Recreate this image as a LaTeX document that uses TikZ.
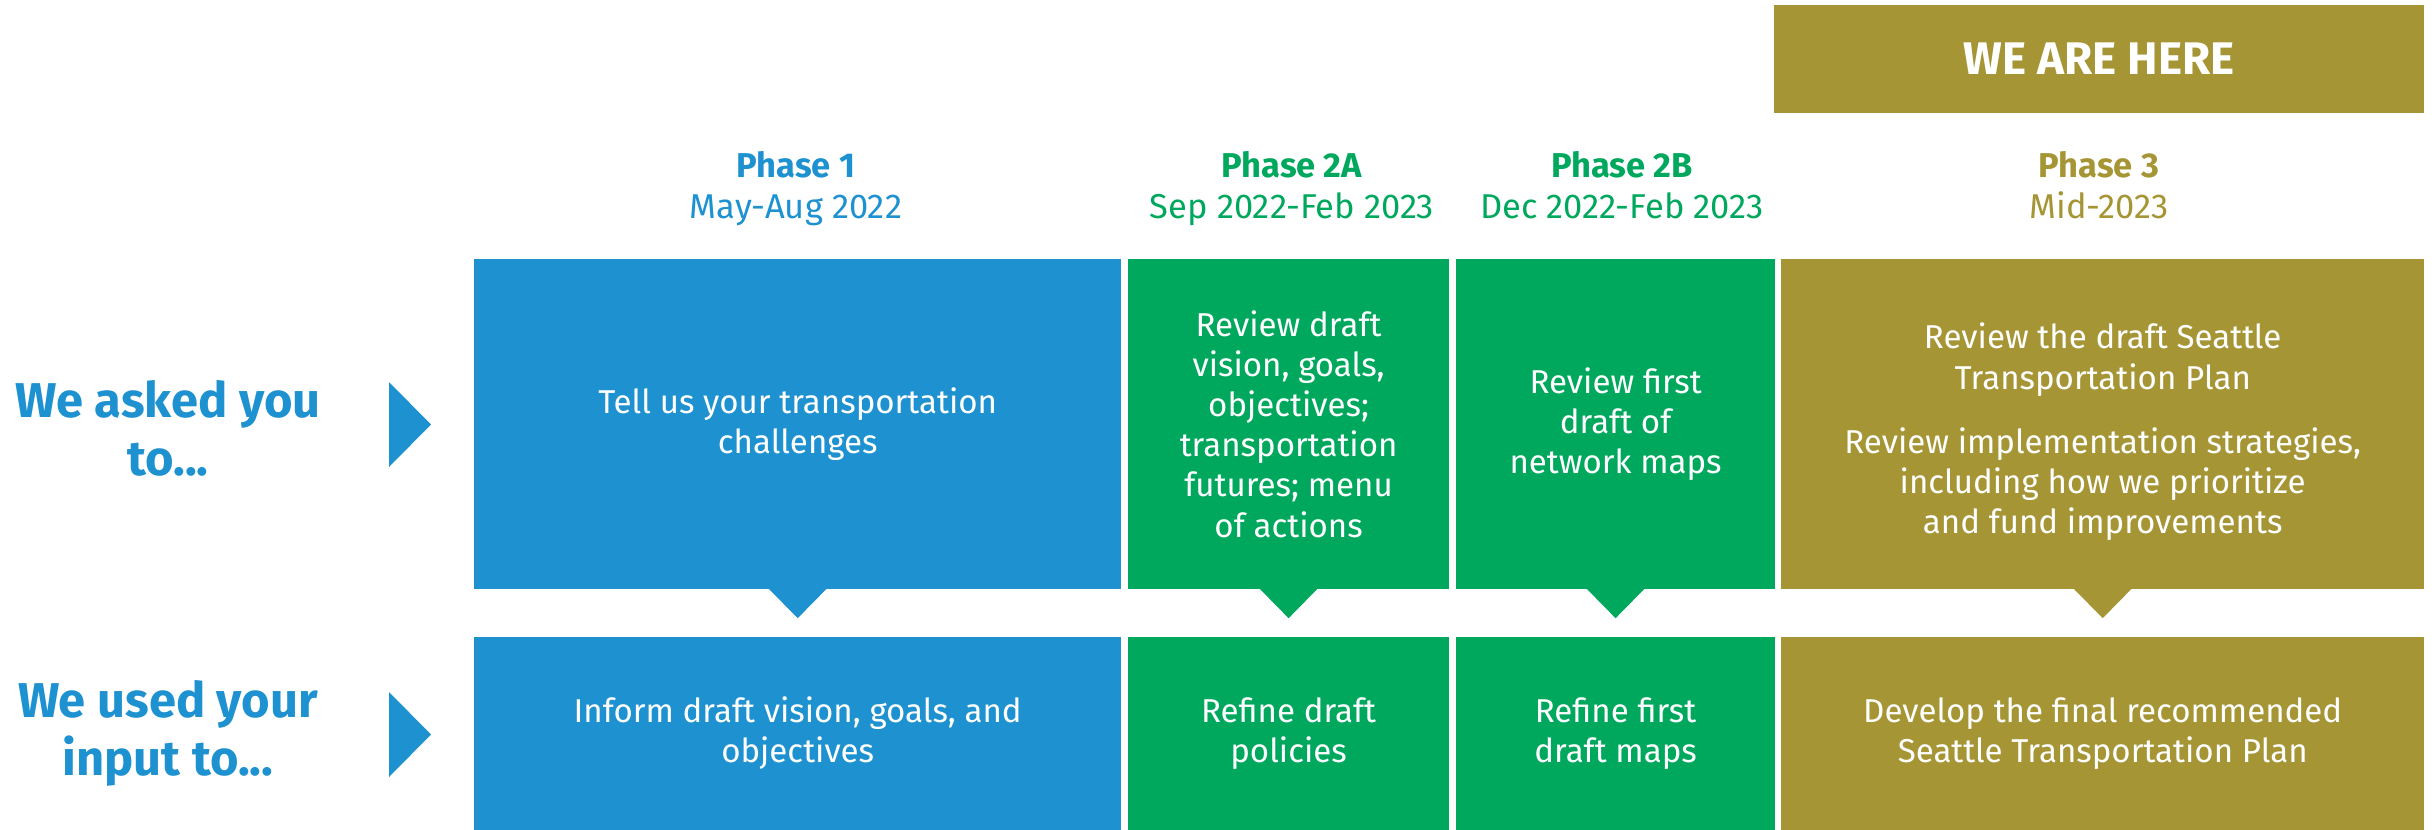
\documentclass[tikz,border=0pt]{standalone}
\usepackage{fontspec}
\setmainfont{Fira Sans}
\usetikzlibrary{calc}
\definecolor{pblue}{RGB}{30,145,208}
\definecolor{pgreen}{RGB}{0,168,94}
\definecolor{polive}{RGB}{166,149,53}
\tikzset{
  x=0.01cm, y=-0.01cm,
  box/.style={inner sep=0pt, outer sep=0pt, anchor=north west, align=center, text=white,
    font=\fontsize{9.4pt}{11.4pt}\selectfont},
  boxtext/.style={inner sep=0pt, align=center, text=white,
    font=\fontsize{9.4pt}{11.4pt}\selectfont},
  head/.style={align=center, anchor=base, font=\fontsize{9.8pt}{11.4pt}\selectfont},
  side/.style={align=center, text=pblue, font=\fontsize{13.9pt}{16.5pt}\selectfont\bfseries},
}
\begin{document}
\begin{tikzpicture}
\path[use as bounding box] (0,0) rectangle (2435,830);
% we are here
\node[box, fill=polive, minimum width=6.50cm, minimum height=1.08cm,
  font=\fontsize{13pt}{14pt}\selectfont\bfseries] (here) at (1774,5) {WE ARE HERE};
% headers
\node[head, text=pblue] (h1) at (796,218) {\textbf{Phase 1}\\May-Aug 2022};
\node[head, text=pgreen] (h2a) at (1292,218) {\textbf{Phase 2A}\\Sep 2022-Feb 2023};
\node[head, text=pgreen] (h2b) at (1622,218) {\textbf{Phase 2B}\\Dec 2022-Feb 2023};
\node[head, text=polive] (h3) at (2099,218) {\textbf{Phase 3}\\Mid-2023};
% top row
\node[box, fill=pblue, minimum width=6.47cm, minimum height=3.30cm] (t1) at (474,259)
  {Tell us your transportation\\challenges};
\node[box, fill=pgreen, minimum width=3.21cm, minimum height=3.30cm] (t2a) at (1128,259)
  {Review draft\\vision, goals,\\objectives;\\transportation\\futures; menu\\of actions};
\node[box, fill=pgreen, minimum width=3.19cm, minimum height=3.30cm] (t2b) at (1456,259)
  {Review first\\draft of\\network maps};
\node[box, fill=polive, minimum width=6.43cm, minimum height=3.30cm] (t3) at (1781,259) {};
\node[boxtext] (t3txt) at ($(t3.center)+(0,8)$)
  {Review the draft Seattle\\Transportation Plan\\[7pt]Review implementation strategies,\\including how we prioritize\\and fund improvements};
% bottom row
\node[box, fill=pblue, minimum width=6.47cm, minimum height=1.93cm] (b1) at (474,637)
  {Inform draft vision, goals, and\\objectives};
\node[box, fill=pgreen, minimum width=3.21cm, minimum height=1.93cm] (b2a) at (1128,637)
  {Refine draft\\policies};
\node[box, fill=pgreen, minimum width=3.19cm, minimum height=1.93cm] (b2b) at (1456,637)
  {Refine first\\draft maps};
\node[box, fill=polive, minimum width=6.43cm, minimum height=1.93cm] (b3) at (1781,637)
  {Develop the final recommended\\Seattle Transportation Plan};
% pointers
\foreach \n/\c in {t1/pblue, t2a/pgreen, t2b/pgreen, t3/polive}{
  \fill[\c] ($(\n.south)+(-28.5,0)$) -- ($(\n.south)+(28.5,0)$) -- ($(\n.south)+(0,29)$) -- cycle;
}
% side labels
\node[side] (s1) at (168,428) {We asked you\\to...};
\node[side] (s2) at (168,733) {We used your\\input to...};
\fill[pblue] (389,382) -- (431,424.5) -- (389,467) -- cycle;
\fill[pblue] (389,692) -- (431,734.5) -- (389,777) -- cycle;
\end{tikzpicture}
\end{document}
